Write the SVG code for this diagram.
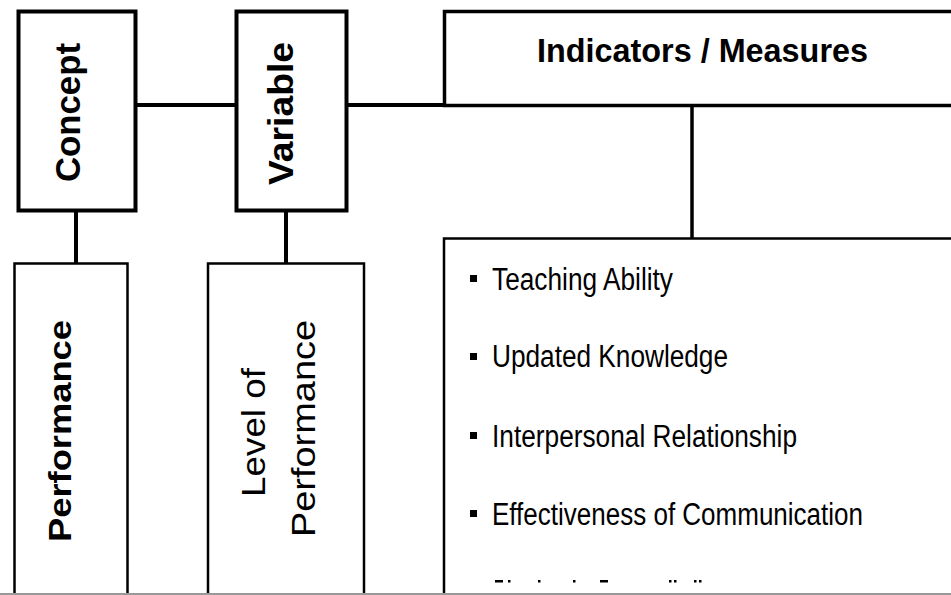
<svg xmlns="http://www.w3.org/2000/svg" width="951" height="595" viewBox="0 0 951 595">
<style>
.box{fill:#fff;stroke:#000}
.thick{stroke-width:4}
.thin{stroke-width:2.5}
.conn{stroke:#000;fill:none;stroke-width:4}
.b{font-family:"Liberation Sans",Arial,sans-serif;font-weight:bold;fill:#000}
.r{font-family:"Liberation Sans",Arial,sans-serif;fill:#000}
.bul{fill:#000}
</style>
<rect width="951" height="595" fill="#fff"/>
<g id="connectors">
<path class="conn" d="M137 105H236"/>
<path class="conn" d="M348 105H488"/>
<path class="conn" d="M76 212V263"/>
<path class="conn" d="M286 212V263"/>
<path class="conn" d="M692 107V238" style="stroke-width:3.5"/>
</g>
<g id="concept">
<rect class="box thick" x="18.5" y="11.5" width="117" height="199"/>
<text class="b" font-size="35" transform="translate(80,112.5) rotate(-90)" text-anchor="middle" textLength="139" lengthAdjust="spacingAndGlyphs">Concept</text>
</g>
<g id="variable">
<rect class="box thick" x="236.5" y="11.5" width="110" height="199"/>
<text class="b" font-size="35" transform="translate(293,113.5) rotate(-90)" text-anchor="middle" textLength="143" lengthAdjust="spacingAndGlyphs">Variable</text>
</g>
<g id="indicators">
<rect class="box" style="stroke-width:3.5" x="444.5" y="11.5" width="520" height="94"/>
<text class="b" font-size="33" x="537" y="62" textLength="331" lengthAdjust="spacingAndGlyphs">Indicators / Measures</text>
</g>
<g id="performance">
<rect class="box thin" x="14.5" y="263.5" width="113" height="400"/>
<text class="b" font-size="32" transform="translate(71,431) rotate(-90)" text-anchor="middle" textLength="222" lengthAdjust="spacingAndGlyphs">Performance</text>
</g>
<g id="level">
<rect class="box thin" x="208" y="263.5" width="156" height="400"/>
<text class="r" font-size="34" transform="translate(265,432.5) rotate(-90)" text-anchor="middle" textLength="129" lengthAdjust="spacingAndGlyphs">Level of</text>
<text class="r" font-size="34" transform="translate(315,428.5) rotate(-90)" text-anchor="middle" textLength="217" lengthAdjust="spacingAndGlyphs">Performance</text>
</g>
<g id="measures-list">
<rect class="box thin" x="444" y="238.5" width="520" height="400"/>
<rect class="bul" x="470" y="275" width="7" height="7"/>
<text class="r" font-size="31" x="492" y="290" textLength="181" lengthAdjust="spacingAndGlyphs">Teaching Ability</text>
<rect class="bul" x="470" y="353" width="7" height="7"/>
<text class="r" font-size="31" x="492" y="367" textLength="236" lengthAdjust="spacingAndGlyphs">Updated Knowledge</text>
<rect class="bul" x="470" y="432" width="7" height="7"/>
<text class="r" font-size="31" x="492" y="447" textLength="305" lengthAdjust="spacingAndGlyphs">Interpersonal Relationship</text>
<rect class="bul" x="470" y="510" width="7" height="7"/>
<text class="r" font-size="31" x="492" y="525" textLength="371" lengthAdjust="spacingAndGlyphs">Effectiveness of Communication</text>
<g fill="#000">
<rect x="495" y="580" width="8" height="2.5"/>
<rect x="508" y="580" width="2.5" height="2.5"/>
<rect x="538" y="580" width="2.5" height="2.5"/>
<rect x="573" y="580" width="2.5" height="2.5"/>
<rect x="600" y="580" width="8" height="2.5"/>
<rect x="669" y="580" width="2.5" height="2.5"/>
<rect x="674" y="580" width="2.5" height="2.5"/>
<rect x="694" y="580" width="2.5" height="2.5"/>
<rect x="699" y="580" width="2.5" height="2.5"/>
</g>
</g>
<line x1="0" y1="594" x2="951" y2="594" stroke="#999" stroke-width="2"/>
</svg>
